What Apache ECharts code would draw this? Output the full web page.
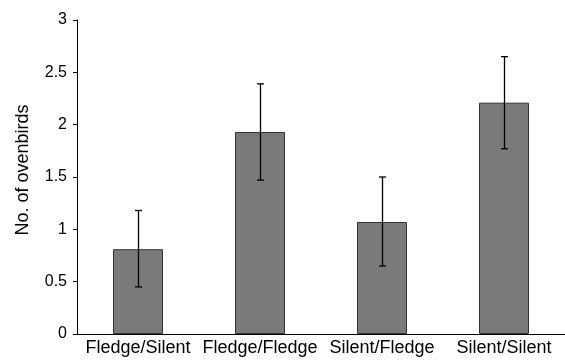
<!DOCTYPE html>
<html><head><meta charset="utf-8">
<script src="https://cdn.jsdelivr.net/npm/echarts@6/dist/echarts.min.js"></script>
<style>html,body{margin:0;padding:0;background:#fff}#c{width:565px;height:360px}</style>
</head><body><div id="c"></div>
<script>
const categories = ['Fledge/Silent', 'Fledge/Fledge', 'Silent/Fledge', 'Silent/Silent'];
const means = [0.81, 1.93, 1.07, 2.21];
const errLow = [0.45, 1.47, 0.65, 1.77];
const errHigh = [1.18, 2.39, 1.50, 2.65];
const yTicks = { min: 0, max: 3, interval: 0.5 };

const chart = echarts.init(document.getElementById('c'), null, { renderer: 'canvas' });
const font = 'Liberation Sans, Arial, sans-serif';
chart.setOption({
  animation: false,
  grid: { left: 77, top: 20, width: 496, bottom: 26, containLabel: false },
  xAxis: {
    type: 'category', data: categories,
    axisLine: { lineStyle: { color: '#000', width: 1 } },
    axisTick: { show: false },
    axisLabel: { color: '#000', fontFamily: font, fontSize: 18, margin: 5, interval: 0 }
  },
  yAxis: {
    type: 'value', min: yTicks.min, max: yTicks.max, interval: yTicks.interval,
    name: 'No. of ovenbirds', nameLocation: 'middle', nameGap: 45,
    nameTextStyle: { color: '#000', fontFamily: font, fontSize: 18, padding: [0, 0, 0, 14] },
    axisLine: { show: true, lineStyle: { color: '#000', width: 1 } },
    axisTick: { show: true, length: 4, lineStyle: { color: '#000' } },
    splitLine: { show: false },
    axisLabel: { color: '#000', fontFamily: font, fontSize: 16, margin: 10 }
  },
  series: [
    {
      type: 'bar', data: means, barWidth: 50,
      itemStyle: { color: '#7a7a7a', borderColor: '#333', borderWidth: 1 }
    },
    {
      type: 'custom',
      data: categories.map((c, i) => [i, errLow[i], errHigh[i]]),
      renderItem: function (params, api) {
        const lo = api.coord([api.value(0), api.value(1)]);
        const hi = api.coord([api.value(0), api.value(2)]);
        const x = Math.round(lo[0]) + 0.5;
        const cap = 3.5;
        const st = { stroke: '#000', lineWidth: 1.3 };
        return { type: 'group', children: [
          { type: 'line', shape: { x1: x, y1: hi[1], x2: x, y2: lo[1] }, style: st },
          { type: 'line', shape: { x1: x - cap, y1: hi[1], x2: x + cap, y2: hi[1] }, style: st },
          { type: 'line', shape: { x1: x - cap, y1: lo[1], x2: x + cap, y2: lo[1] }, style: st }
        ]};
      },
      z: 10
    }
  ]
});
</script></body></html>
